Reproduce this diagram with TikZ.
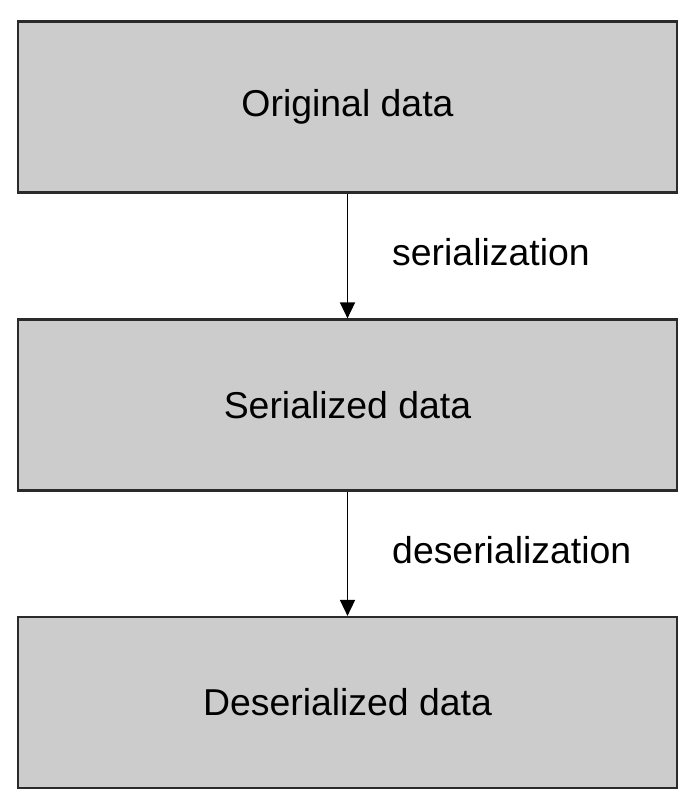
\documentclass[tikz,border=0pt]{standalone}
\usepackage{fontspec}
\setmainfont{Liberation Sans}
\usetikzlibrary{arrows.meta}
\definecolor{boxfill}{HTML}{CCCCCC}
\definecolor{boxline}{HTML}{2A2A2A}
\tikzset{
  databox/.style={draw=boxline, line width=2.2pt, fill=boxfill, minimum width=659pt, minimum height=171pt, inner sep=0pt, font=\fontsize{37.4}{44}\selectfont},
  flow/.style={draw=black, line width=1.6pt, -{Triangle[length=16pt,width=15pt]}},
  flowlabel/.style={anchor=west, inner sep=0pt, font=\fontsize{37.4}{44}\selectfont}
}
\begin{document}
\begin{tikzpicture}[x=1pt,y=-1pt]
\useasboundingbox (0,0) rectangle (698,799);
\node[databox] (orig) at (347.5,107) {Original data};
\node[databox] (ser) at (347.5,405) {Serialized data};
\node[databox] (deser) at (347.5,702.5) {Deserialized data};
\draw[flow] (orig.south) -- (ser.north);
\draw[flow] (ser.south) -- (deser.north);
\node[flowlabel] (l1) at (392,252) {serialization};
\node[flowlabel] (l2) at (392,550) {deserialization};
\end{tikzpicture}
\end{document}
